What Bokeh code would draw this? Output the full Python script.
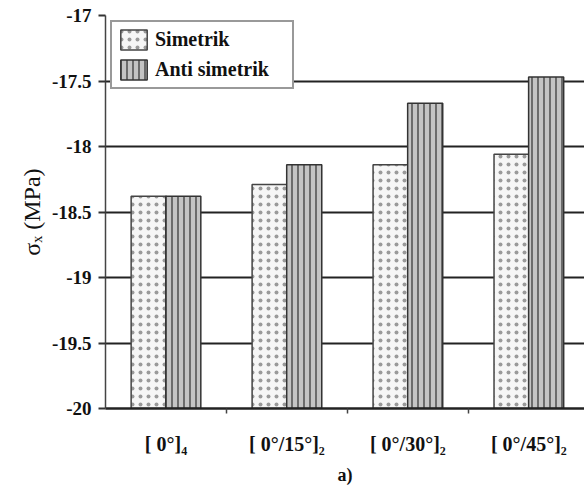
from bokeh.plotting import figure
from bokeh.models import (FixedTicker, Range1d, Legend, LegendItem, Title, ColumnDataSource,
                          LinearAxis, PrintfTickFormatter)
from bokeh.embed import file_html
from bokeh.resources import INLINE

categories = ["[ 0°]₄", "[ 0°/15°]₂", "[ 0°/30°]₂", "[ 0°/45°]₂"]
simetrik = [-18.38, -18.29, -18.14, -18.06]
anti_simetrik = [-18.38, -18.14, -17.67, -17.47]
y_ticks = [-20, -19.5, -19, -18.5, -18, -17.5, -17]
y_label_format = "%g"

FONT = "Liberation Serif"
centers = [i + 0.5 for i in range(len(categories))]
off = 0.143
bw = 0.29

src = ColumnDataSource(dict(
    xs=[c - off for c in centers],
    xa=[c + off for c in centers],
    sim=simetrik,
    anti=anti_simetrik,
))

p = figure(width=584, height=489, output_backend="svg", toolbar_location=None,
           x_range=Range1d(0, 3.96), y_range=Range1d(-20, -17),
           y_axis_location=None,
           min_border_left=105, min_border_right=0, min_border_top=15, min_border_bottom=79)
p.outline_line_color = None
p.background_fill_color = "white"
p.border_fill_color = "white"

r_sim = p.vbar(x="xs", top="sim", bottom=-20, width=bw, source=src,
               fill_color="#f6f6f6", line_color="#444444", line_width=1.5,
               hatch_pattern="dot", hatch_color="#9a9a9a", hatch_scale=8, hatch_weight=1.3)
r_anti = p.vbar(x="xa", top="anti", bottom=-20, width=bw, source=src,
                fill_color="#c4c4c4", line_color="#333333", line_width=1.5,
                hatch_pattern="vertical_line", hatch_color="#555555", hatch_scale=6, hatch_weight=1.6)

yax = LinearAxis(
    ticker=FixedTicker(ticks=y_ticks),
    formatter=PrintfTickFormatter(format=y_label_format),
    major_label_text_font=FONT,
    major_label_text_font_style="bold",
    major_label_text_font_size="19px",
    major_label_text_color="#111111",
    major_tick_out=7, major_tick_in=0,
    major_tick_line_width=2, major_tick_line_color="#333333",
    minor_tick_line_color=None,
    axis_line_color="#444444", axis_line_width=1.5,
    major_label_standoff=7,
    axis_label="σₓ (MPa)",
    axis_label_text_font=FONT,
    axis_label_text_font_style="normal",
    axis_label_text_font_size="24px",
    axis_label_text_color="#111111",
    axis_label_standoff=4,
)
p.add_layout(yax, "left")
p.ygrid.ticker = yax.ticker

xax = p.xaxis[0]
xax.ticker = FixedTicker(ticks=centers, minor_ticks=[1, 2, 3])
xax.major_label_overrides = {c: l for c, l in zip(centers, categories)}
xax.major_label_text_font = FONT
xax.major_label_text_font_style = "bold"
xax.major_label_text_font_size = "20px"
xax.major_label_text_color = "#111111"
xax.major_tick_line_color = None
xax.minor_tick_out = 5
xax.minor_tick_in = 0
xax.minor_tick_line_color = "#444444"
xax.minor_tick_line_width = 1.5
xax.axis_line_color = "#222222"
xax.axis_line_width = 2.5
xax.major_label_standoff = 18

p.xgrid.visible = False
p.ygrid.grid_line_color = "#222222"
p.ygrid.grid_line_width = 2.2

legend = Legend(items=[LegendItem(label="Simetrik", renderers=[r_sim]),
                       LegendItem(label="Anti simetrik", renderers=[r_anti])],
                location="top_left",
                label_text_font=FONT, label_text_font_style="bold",
                label_text_font_size="20px", label_text_color="#111111",
                glyph_width=33, glyph_height=25, spacing=5, padding=5, margin=5,
                label_width=132, border_line_color="#333333", border_line_width=2,
                background_fill_color="white", background_fill_alpha=1)
p.add_layout(legend)

p.add_layout(Title(text="a)", align="center", text_font=FONT, text_font_style="bold",
                   text_font_size="18px", text_color="#111111", offset=-19), "below")

open("out.html", "w").write(file_html(p, INLINE))
